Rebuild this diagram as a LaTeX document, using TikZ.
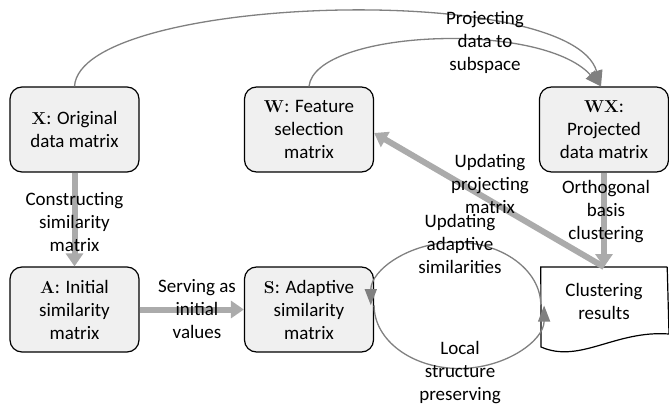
\documentclass[tikz,border=0pt]{standalone}
\usepackage[no-math]{fontspec}
\setmainfont{Carlito}
\usepackage{amsmath}
\usetikzlibrary{arrows.meta,positioning}

\begin{document}
\begin{tikzpicture}[x=1pt,y=-1pt,on grid,node distance=180pt and 234.5pt,
  font=\fontsize{19}{23}\selectfont,
  mat/.style={draw,line width=1.2pt,rounded corners=12pt,fill=black!6,
    minimum width=129pt,minimum height=85pt,align=center,inner sep=2pt},
  lab/.style={align=center,inner sep=0pt},
  fat arrow/.style={draw=black!33,line width=6pt,-{Triangle[length=13pt,width=17pt]}},
  thin arrow/.style={draw=black!50,line width=1.3pt,-{Triangle[length=16pt,width=12pt]}}]

\useasboundingbox (0,0) rectangle (669,406);

\node[mat]   (X)   at (74.5,129.5)   {$\mathbf{X}$: Original\\data matrix};
\node[mat]   (W)   [right=of X]      {$\mathbf{W}$: Feature\\selection\\matrix};
\node[mat]   (WX)  [right=295pt of W] {$\mathbf{WX}$:\\Projected\\data matrix};
\node[mat]   (A)   [below=of X]      {$\mathbf{A}$: Initial\\similarity\\matrix};
\node[mat]   (S)   [right=of A]      {$\mathbf{S}$: Adaptive\\similarity\\matrix};
\node[align=center,anchor=north,minimum width=126pt,minimum height=68pt] (res) at (604,267) {Clustering\\results};

% document shape of the results
\draw[line width=1.2pt] (res.north east) -- (res.north west) -- (541,347)
  .. controls (580,364) and (615,330) .. (669,334) -- (res.north east);

\path[fat arrow] (X) -- (A);
\path[fat arrow] (A) -- (S);
\path[fat arrow] (WX) -- (res);
\path[fat arrow] (res.north) -- ([yshift=-3.5pt]W.east);

\path[thin arrow] (X.north) .. controls (80,-5) and (570,-20) .. ([xshift=-3pt]WX.north);
\path[thin arrow] (W.north) .. controls (315,30) and (540,20) .. ([xshift=-3pt]WX.north);

\path[thin arrow] ([yshift=-4pt]res.west) arc[start angle=0,end angle=180,x radius=85pt,y radius=63pt];
\path[thin arrow] ([yshift=4pt]S.east) arc[start angle=180,end angle=360,x radius=85pt,y radius=63pt];

\node[lab] (lsim)  at (74.5,222) {Constructing\\similarity\\matrix};
\node[lab] (linit) at (197,309)  {Serving as\\initial\\values};
\node[lab] (lorth) at (606,212)  {Orthogonal\\basis\\clustering};
\node[lab] (lproj) at (490,184)  {Updating\\projecting\\matrix};
\node[lab] (ladap) at (460,244)  {Updating\\adaptive\\similarities};
\node[lab] (lloc)  at (460,373)  {Local\\structure\\preserving};
\node[lab] (lsub)  at (485,42)   {Projecting\\data to\\subspace};
\end{tikzpicture}
\end{document}
